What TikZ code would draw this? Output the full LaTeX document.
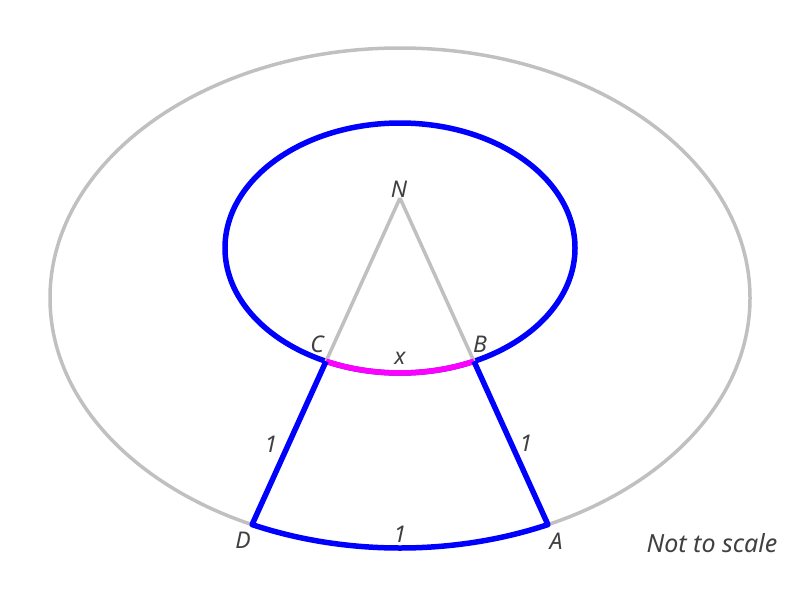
\documentclass[tikz,border=0pt]{standalone}
\usepackage{fontspec}
\setmainfont{Noto Sans}
\definecolor{ringgray}{HTML}{C0C0C0}
\definecolor{txtgray}{HTML}{404040}
\definecolor{myblue}{HTML}{0000FF}
\definecolor{mymag}{HTML}{FF00FF}
\begin{document}
\begin{tikzpicture}[x=1pt,y=-1pt,
  grayline/.style={draw=ringgray,line width=3.5pt},
  blueline/.style={draw=myblue,line width=5.5pt,line join=round},
  magline/.style={draw=mymag,line width=5.5pt},
  lbl/.style={text=txtgray,font=\fontsize{23}{26}\selectfont\itshape,inner sep=0pt}]
\useasboundingbox (0,0) rectangle (800,600);
% outer ellipse
\draw[grayline] (400,298) ellipse [x radius=350, y radius=250];
% inner ellipse
\draw[blueline] (400,248) ellipse [x radius=175, y radius=125];
% points
\coordinate (N) at (400,198);
\coordinate (A) at ({400+350*cos(65)},{298+250*sin(65)});
\coordinate (D) at ({400+350*cos(115)},{298+250*sin(115)});
\coordinate (B) at ({400+175*cos(65)},{248+125*sin(65)});
\coordinate (C) at ({400+175*cos(115)},{248+125*sin(115)});
% gray spokes
\draw[grayline] (N) -- (C);
\draw[grayline] (N) -- (B);
% magenta arc
\draw[magline] (B) arc[start angle=65,end angle=115,x radius=175,y radius=125];
% blue sector outline
\draw[blueline] (C) -- (D) arc[start angle=115,end angle=65,x radius=350,y radius=250] -- (B);
% labels
\node[lbl] (lN) at (399,189) {N};
\node[lbl] (lC) at (317,344) {C};
\node[lbl] (lB) at (480,344) {B};
\node[lbl] (lx) at (400,358) {x};
\node[lbl] (l1a) at (271,444) {1};
\node[lbl] (l1b) at (526,443) {1};
\node[lbl] (l1c) at (400,534) {1};
\node[lbl] (lD) at (243,540) {D};
\node[lbl] (lA) at (556,541) {A};
\node[lbl,font=\fontsize{25}{28}\selectfont\itshape] (lnts) at (712,543) {Not to scale};
\end{tikzpicture}
\end{document}
